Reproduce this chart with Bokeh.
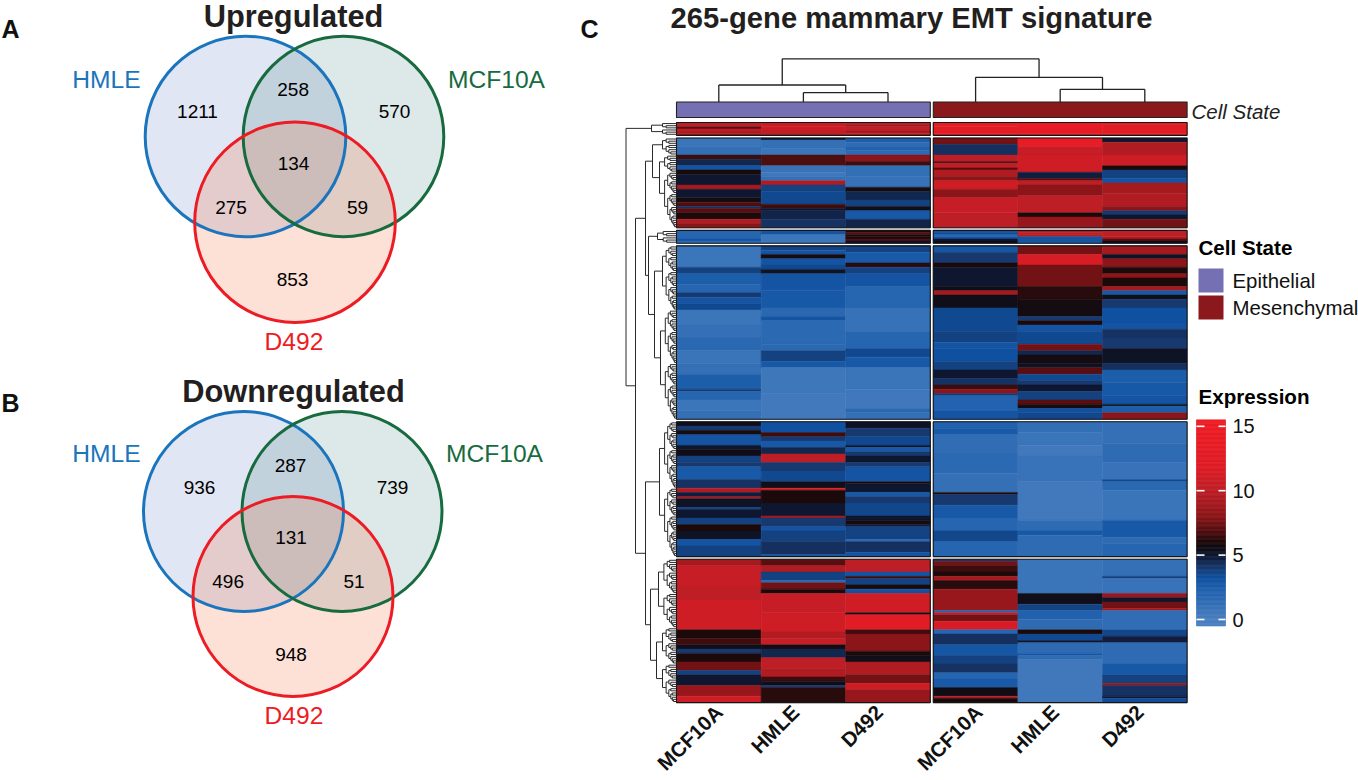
from bokeh.plotting import figure
from bokeh.embed import file_html
from bokeh.resources import INLINE
from bokeh.models import Range1d, LinearColorMapper, ColumnDataSource
from bokeh.core.properties import value
import numpy as np

# ---------------- DATA ----------------
venn_sets = ["HMLE", "MCF10A", "D492"]
up_counts = ["1211", "258", "570", "134", "275", "59", "853"]
down_counts = ["936", "287", "739", "131", "496", "51", "948"]
sample_labels = ["MCF10A", "HMLE", "D492", "MCF10A", "HMLE", "D492"]
state_labels = ["Epithelial", "Mesenchymal"]
expr_ticks = [0, 5, 10, 15]

# expression, one list per heatmap column, one block per row cluster
c1 = [
    [10, 10, 7, 10, 9.5, 9],
    [10.5, 10.5, 11, 10.5, 10, 10],
    [10, 9, 10, 10, 9, 10],
    [13, 13, 12.5, 13, 13, 12],
    [14, 14, 14, 13, 13, 12.5],
    [12.5, 12, 12, 13, 13, 12.5],
]
c2 = [
    [0.9]*4+[1.3]*4+[6.5]*2+[4.5]*3+[3]*2+[6]*2+[5]*5+[9]*2+[5]*4+[5.8]*2+[6.8]*2+[4.2]+[7]*2+[6]*3+[9.5]*2+[8]*2,
    [5]+[1.2]*4+[0.8]*3+[6.8]*5+[1]*3+[0.6]*2+[1.2]*2+[9.5]*2+[3.8]*3+[3.5]*6+[6.5]*2+[5]+[4.6]*4+[4.2]*4,
    [2.5]*2+[1.5]*2+[2.2]*2+[1.5]*2+[8]*3+[6.5]*2+[1.3]*5+[1.1]*5+[5.8]*2+[4.5]*4+[3.8]*3+[5.5]*2+[2.8]*4+[4.6]*4,
    [7.5]*3+[4.3]*5+[10]*3+[7]+[10]*2+[7]+[9.5]*3+[8]*2+[11]*4+[8]*4+[10.5]*7+[10]*7,
    [14]*4+[10.5]*4+[11]*8+[4.8]*3+[7]+[10]*2+[8]*5+[10]*8+[6]*2+[8.5]*5,
    [5]*2+[9.5]*6+[11]*5+[6]*2+[3.8]*4+[3]*2+[9]*5+[9.5]*6+[8]*2+[4]*2+[5]*2+[7.5]*4,
]
c3 = [
    [2, 2, 2, 2, 3, 1.5],
    [3, 3, 0.8, 0.8, 0.8, 0.5],
    [6, 7, 6, 5.8, 7, 5.2],
    [3, 3.5, 2, 3, 5, 5.5],
    [9.5, 10, 9.5, 3, 3, 2.8],
    [10, 10, 10, 9.5, 7, 5.5],
]
c4 = [
    [0.8]*10+[3.8]*3+[2.5]*5+[2]*4+[4]*2+[3]*3+[3.5]*3+[0.8]*7+[1.2]*6+[1.8]*6+[0.9]*6+[1.2]*5+[2.5]*7+[4]+[2]*4+[0.8]*5+[1.2]*4,
    [3.8]*2+[3]*2+[5.8]*2+[3]*3+[3.5]*2+[5.2]*2+[3]*8+[2.8]*8+[1.8]*4+[3]*2+[1.7]*11+[1.8]*3+[3.8]*5+[2.8]*3+[0.7]*12+[0.5]*12,
    [3.8]*3+[2.7]*5+[6.2]*2+[3.8]*3+[3]*6+[2]*10+[1.1]*11+[2]*8+[3.5]*4+[2.8]*5+[0.9]*10+[0.6]*9+[1.8]*2+[1.2]*3,
    [2.9]*3+[4]+[4]*4+[6]*2+[5]*9+[5.5]*2+[9]*2+[5.5]*6+[3.5]*11+[3.8]*5+[3]*3+[3.3]*6+[3.8]*4+[5]*4+[4.2]*3+[6.5]*2+[8]*2+[4]+[2.2]*7+[3]*4,
    [7.5]*4+[11.5]*5+[7.5]*5+[7.5]*5+[6.2]*6+[5.8]*8+[4]*2+[6]*2+[3]*3+[3.5]*6+[7.5]*3+[4.5]*2+[5.8]*4+[5.3]*2+[7]*3+[3.5]*3+[4]*2+[5]*3+[3.8]*4+[7]*2+[5.8]*2+[3.3]*2+[3.6]*3,
    [9]*4+[5.3]*2+[8]*4+[6]*3+[8]*2+[6]*4+[9]*2+[2.8]*2+[5.5]*2+[4]*4+[3.3]*7+[3]*3+[4.2]*4+[4]*5+[5.2]*7+[4.3]*3+[2.5]*6+[2.8]*6+[3]*4+[5]+[2.6]*3+[8]*3,
]
c5 = [
    [5.5]*2+[4]*2+[5.8]*2+[3]*5+[5]*2+[5.6]*3+[3.8]*3+[4]*2+[2.7]*6+[4.2]*4+[9.5]*2+[4.8]*2+[9]+[5.2]*4+[3.8]+[5]*4+[3.8]*3+[6]*3+[5.2]*4+[3]*3+[3.8]*5,
    [3.3]*5+[6.5]*2+[4]*2+[2.8]*3+[4.5]*3+[10]*4+[4]*4+[3.5]*5+[5.5]*3+[11.5]+[6]*6+[5]*6+[9]+[4]*4+[3]*2+[3.8]*5+[4.3]*6+[3],
    [5.2]*3+[4]*4+[3.5]*4+[5]+[2.7]*2+[4]*2+[5]*3+[4]*2+[3]*7+[6]+[5]*4+[2.8]*2+[4]*3+[3.6]*6+[5]*2+[5.8]*2+[4.8]+[3.7]*6+[1.8]+[4.3]*5+[3]*2,
    [2.3]*3+[2.7]*3+[1.4]*9+[1.7]*9+[1.2]*9+[6]+[4]*5+[2.8]*6+[2]*6+[3.6]*5+[2]*7,
    [1.3]*5+[0.9]*6+[0.5]*5+[1]*12+[0.5]*18+[1.5]*5+[2.8]*2+[1.5]*10,
    [1.2]*10+[1.5]*9+[1]*8+[3.5]+[1.8]*4+[0.9]*14+[2.8]*8+[1.6]*3+[2]*6,
]
c6 = [
    [9]*3+[10.5]*10+[10]*6+[11]*14+[6]*4+[6.6]*3+[5.5]*2+[4]*2+[6]*4+[7.5]*4+[3.8]*2+[5]*5+[8.5]*5+[11]*3,
    [7]*3+[9.5]*3+[3.8]*4+[1.8]+[7.5]*3+[6]*2+[10.5]*9+[11]*9+[9.5]*3+[10.5]*3+[5.8]*2+[4.5]*4+[10]*5+[9.5]*4+[6.5]*2+[5.5]*2+[4]+[6.2]*7,
    [10]*6+[3]*2+[6.5]+[3.8]*3+[6]*2+[3.2]*2+[11]*9+[5.8]+[12.5]*7+[6.6]*2+[8]*8+[6]*2+[5.5]*3+[9.5]*6+[7.5]*4+[11]*3+[8.5]*6,
    [4]+[7.5]*2+[6.5]*3+[6]*2+[9]*2+[6.2]*4+[8.5]*10+[2]+[10.5]+[7.5]*3+[11.5]*4+[2]*2+[4.3]*5+[2.9]*5+[3.8]*4+[4.2]*4+[2]*3+[2.7]*4+[5.6]*4+[9.5]+[6]*2,
    [0.9]*16+[5.5]*5+[3.7]*3+[2.3]*4+[1.5]*5+[6]*2+[3.5]*3+[5]+[1.5]*5+[3]+[1.6]*2+[0.6]*20,
    [1.2]*8+[3.8]+[1]*7+[8.5]*2+[5]*2+[7.5]*3+[9]+[1.4]*9+[3.6]*3+[4.8]*3+[1.6]*10+[2.8]*5+[3.8]*4+[8.5]+[4.2]*5+[5]+[3.4]*2,
]
clusters = [c1, c2, c3, c4, c5, c6]

# merge heights of the dendrograms
col_merges = {"hmle_d492": 9.4, "epi": 17.0, "mes_pair": 12.7, "mes": 24.7, "root": 43.2}
row_tree = (50.5,
            (25, 3, 3),
            (41,
             (31,
              (24, 8, (17, 8, 26)),
              (28, (19, 3, 3), (22, 30, (16, 25, 26)))),
             (31,
              (17, 31, 32),
              (26, (18, 16, 16), (20, 17, 18)))))

# ---------------- STYLE ----------------
FONT = value("Liberation Sans")
color_stops = [(-0.5, "#4a80c0"), (0, "#4a80c0"), (2.5, "#1d5eab"), (3.3, "#0f4f9f"), (4, "#173a70"),
               (4.8, "#101c3c"), (5.4, "#0d0f1c"), (6, "#1a0a0a"), (6.8, "#4e0e10"), (8, "#8a1518"),
               (10, "#bd1e26"), (12, "#e01c25"), (15.5, "#ee1c25")]
def hex2rgb(h):
    return [int(h[i:i+2], 16) for i in (1, 3, 5)]
grid = np.linspace(-0.5, 15.5, 256)
stops_x = [s[0] for s in color_stops]
stops_c = np.array([hex2rgb(s[1]) for s in color_stops], float)
palette = ["#%02x%02x%02x" % tuple(int(round(np.interp(g, stops_x, stops_c[:, k]))) for k in range(3)) for g in grid]
mapper = LinearColorMapper(palette=palette, low=-0.5, high=15.5)

p = figure(width=1358, height=780, x_range=Range1d(0, 1358), y_range=Range1d(780, 0),
           toolbar_location=None, output_backend="svg", min_border=0,
           x_axis_location=None, y_axis_location=None,
           background_fill_color="white", border_fill_color="white")
p.grid.visible = False
p.outline_line_color = None

HEAT_L, COL_W, PANEL_GAP = 676.0, 84.6, 3.0 / 84.6
HEAT_T, ROW_H, CL_GAP = 122.0, 2.14, 2.6 / 2.14
EXPR_0, EXPR_PX = 619.0, 12.88
p.extra_x_ranges = {"cols": Range1d(-HEAT_L / COL_W, (1358 - HEAT_L) / COL_W)}
p.extra_y_ranges = {"rows": Range1d((780 - HEAT_T) / ROW_H, -HEAT_T / ROW_H),
                    "expr": Range1d((EXPR_0 - 780) / EXPR_PX, EXPR_0 / EXPR_PX)}

def label(x, y, t, size, color="#000000", style="normal", align="center", angle=0, baseline="middle"):
    p.text([x], [y], text=[t], text_font=FONT, text_font_size=f"{size}px", text_font_style=style,
           text_color=color, text_align=align, text_baseline=baseline, angle=angle)

# ---------------- VENNS ----------------
VENN_FILL = [("#3058af", 0.15), ("#1c6666", 0.15), ("#f56432", 0.20)]
VENN_LINE = ["#1a75bc", "#176b3f", "#ed1c24"]
def venn(centers, r, counts, count_xy, names_xy, title, title_xy, tag, tag_xy):
    for (cx, cy), (fc, fa) in zip(centers, VENN_FILL):
        p.circle([cx], [cy], radius=r, fill_color=fc, fill_alpha=fa, line_color=None)
    for (cx, cy), lc in zip(centers, VENN_LINE):
        p.circle([cx], [cy], radius=r, fill_color=None, line_color=lc, line_width=3)
    for t, (x, y) in zip(counts, count_xy):
        label(x, y, t, 19)
    for t, (x, y), c in zip(venn_sets, names_xy, VENN_LINE):
        label(x, y, t, 24.6, color=c)
    label(title_xy[0], title_xy[1], title, 30.8, color="#231f20", style="bold")
    label(tag_xy[0], tag_xy[1], tag, 25, color="#111111", style="bold")

venn([(245, 136), (343, 136), (294.5, 221.7)], 100.3, up_counts,
     [(197, 111), (292.6, 89), (394, 111), (293, 162.7), (230.5, 206.7), (357, 206.7), (292, 279)],
     [(106, 79), (496, 79), (293.5, 341)], "Upregulated", (293, 16), "A", (10, 28))
venn([(243, 511), (341.5, 511), (292.5, 596)], 100.0, down_counts,
     [(199, 486.7), (290, 464.7), (392, 486.7), (290.5, 536.7), (227.6, 581), (353.6, 581), (290.5, 653.7)],
     [(106, 453.3), (494, 453.3), (293.5, 715)], "Downregulated", (293, 390.7), "B", (10, 402))

# ---------------- HEATMAP ----------------
label(589, 28, "C", 25, color="#111111", style="bold")
label(911, 17, "265-gene mammary EMT signature", 29.2, color="#231f20", style="bold")

col_x = [i + 0.5 + (PANEL_GAP if i >= 3 else 0) for i in range(6)]
xs, ys, hs, vs, row_pos = [], [], [], [], []
box_top, box_bot = [], []
pos = 0.0
for cl in clusters:
    n = len(cl[0])
    assert all(len(c) == n for c in cl), [len(c) for c in cl]
    box_top.append(pos)
    for r in range(n):
        row_pos.append(pos + r + 0.5)
    for j in range(6):
        r = 0
        while r < n:            # neighbouring rows of equal value share one cell
            e = r
            while e + 1 < n and cl[j][e + 1] == cl[j][r]:
                e += 1
            xs.append(col_x[j]); ys.append(pos + (r + e + 1) / 2); hs.append(e - r + 1); vs.append(cl[j][r])
            r = e + 1
    pos += n
    box_bot.append(pos)
    pos += CL_GAP
src = ColumnDataSource(dict(x=xs, y=ys, h=hs, v=vs))
tr = {"field": "v", "transform": mapper}
p.rect("x", "y", width=1, height="h", source=src, fill_color=tr, line_color=tr, line_width=0.5,
       x_range_name="cols", y_range_name="rows")
panels = [(0.0, 3.0), (3.0 + PANEL_GAP, 6.0 + PANEL_GAP)]
for l, rr in panels:
    p.quad(left=[l] * 6, right=[rr] * 6, top=box_top, bottom=box_bot, fill_color=None,
           line_color="#151515", line_width=1.1, x_range_name="cols", y_range_name="rows")

# state bar
BAR_T, BAR_B = 101.5, 117.0
for (l, rr), c in zip(panels, ["#7570b3", "#8b181d"]):
    p.quad(left=[l], right=[rr], top=[BAR_T], bottom=[BAR_B], fill_color=c, line_color="#222222",
           line_width=1.1, x_range_name="cols")
label(1191, 110.7, "Cell State", 20.5, color="#222222", style="italic", align="left")

# column dendrogram
def cseg(x0, y0, x1, y1):
    p.line([x0, x1], [y0, y1], line_color="#222222", line_width=1.3, x_range_name="cols")
def join(xa, ha, xb, hb, h):
    top = BAR_T - h
    cseg(xa, BAR_T - ha, xa, top); cseg(xb, BAR_T - hb, xb, top); cseg(xa, top, xb, top)
    return (xa + xb) / 2
n1 = join(col_x[1], 0, col_x[2], 0, col_merges["hmle_d492"])
n2 = join(col_x[0], 0, n1, col_merges["hmle_d492"], col_merges["epi"])
n3 = join(col_x[4], 0, col_x[5], 0, col_merges["mes_pair"])
n4 = join(col_x[3], 0, n3, col_merges["mes_pair"], col_merges["mes"])
join(n2, col_merges["epi"], n4, col_merges["mes"], col_merges["root"])

# row dendrogram
seg_x, seg_y = [], []
def rseg(h0, y0, h1, y1):
    seg_x.append([HEAT_L - h0, HEAT_L - h1]); seg_y.append([y0, y1])
def connect(a, b, h):
    (ya, ha), (yb, hb) = a, b
    rseg(h, ya, h, yb); rseg(ha, ya, h, ya); rseg(hb, yb, h, yb)
    return (ya + yb) / 2, h
def sub(start, n, h):
    if n == 1:
        return row_pos[start], 0
    k = max(1, int(n * 0.42))
    a = sub(start, k, h * 0.74)
    b = sub(start + k, n - k, h * 0.74)
    return connect(a, b, h)
def walk(node, start):
    h, a, b = node
    res = []
    cur = start
    for ch in (a, b):
        if isinstance(ch, tuple):
            r, cur = walk(ch, cur)
        else:
            r = sub(cur, ch, min(h * 0.7, 14))
            cur += ch
        res.append(r)
    return connect(res[0], res[1], h), cur
walk(row_tree, 0)
p.multi_line(seg_x, seg_y, line_color="#2a2a2a", line_width=1.0, y_range_name="rows")

# sample labels (hand-placed in the reference, so each has its own shift along the axis)
label_shift_px = [0, -8, -9, 3, -5, -5]
for x, t, s in zip(col_x, sample_labels, label_shift_px):
    p.text([x + s / COL_W], [708], text=[t], text_font=FONT, text_font_size="20.5px", text_font_style="bold",
           text_color="#111111", text_align="right", text_baseline="middle", angle=45, angle_units="deg",
           x_range_name="cols")

# state legend
label(1198, 246.7, "Cell State", 20.6, color="#000000", style="bold", align="left")
for (t0, b0), c, t in zip([(268, 292), (295, 319)], ["#7570b3", "#8b181d"], state_labels):
    p.quad(left=[1198], right=[1223], top=[t0], bottom=[b0], fill_color=c, line_color=None)
    label(1232, (t0 + b0) / 2, t, 20.4, color="#111111", align="left")

# expression colour bar
label(1198, 396, "Expression", 20.6, color="#000000", style="bold", align="left")
bar_vals = np.linspace(-0.45, 15.45, 160)
bar_src = ColumnDataSource(dict(y=bar_vals, v=bar_vals, x=[1210.5] * len(bar_vals)))
p.rect("x", "y", width=29, height=0.11, source=bar_src, fill_color=tr, line_color=tr, line_width=0.6, y_range_name="expr")
for v in expr_ticks:
    p.segment([1196, 1218], [v, v], [1204, 1225], [v, v], line_color="white", line_width=1.6, y_range_name="expr")
    p.text([1232], [v], text=[str(v)], text_font=FONT, text_font_size="20px", text_color="#111111",
           text_align="left", text_baseline="middle", y_range_name="expr")

open("out.html", "w").write(file_html(p, INLINE))
